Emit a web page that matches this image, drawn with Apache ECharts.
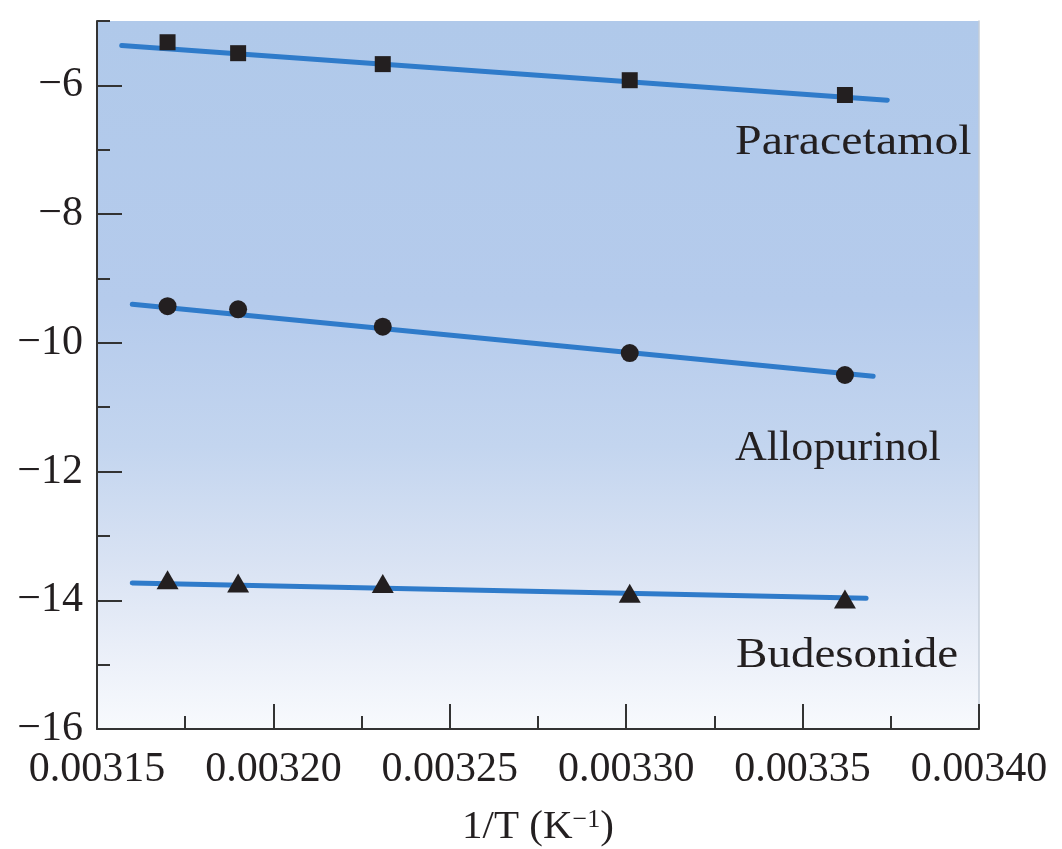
<!DOCTYPE html>
<html>
<head>
<meta charset="utf-8">
<script src="https://cdn.jsdelivr.net/npm/echarts@6/dist/echarts.min.js"></script>
<style>html,body{margin:0;padding:0;background:#fff}#c{width:1062px;height:849px}</style>
</head>
<body>
<div id="c"></div>
<script>
// Measured points (1/T in K^-1, ln x)
const xValues = [0.003170, 0.003190, 0.003231, 0.003301, 0.003362];
const paracetamol = [-5.33, -5.50, -5.67, -5.92, -6.15];
const allopurinol = [-9.43, -9.48, -9.75, -10.16, -10.50];
const budesonide = [-13.68, -13.73, -13.74, -13.89, -13.98];
// Fitted lines (end points)
const paracetamolFitX = [0.003157, 0.003374];
const paracetamolFitY = [-5.38, -6.23];
const allopurinolFitX = [0.003160, 0.003370];
const allopurinolFitY = [-9.40, -10.52];
const budesonideFitX = [0.003160, 0.003368];
const budesonideFitY = [-13.73, -13.97];
const yMajorTicks = [-16, -14, -12, -10, -8, -6];
const seriesNames = ['Paracetamol', 'Allopurinol', 'Budesonide'];

const FONT = 'Liberation Serif';
const TXT = '#231f20';
const AX = '#333333';
const LINE = '#2f7bca';

function zip(xs, ys) { return xs.map((x, i) => [x, ys[i]]); }
function fmtY(v) { return v < 0 ? '\u2212' + Math.abs(v) : String(v); }

const chart = echarts.init(document.getElementById('c'), null, {renderer: 'canvas'});
const yCommon = {type: 'value', min: -16, max: -5, position: 'left', offset: 0,
  splitLine: {show: false}};
chart.setOption({
  backgroundColor: '#ffffff',
  animation: false,
  grid: {left: 97, right: 83, top: 21, bottom: 120, show: true, borderWidth: 0,
    containLabel: false, outerBoundsMode: 'none',
    backgroundColor: new echarts.graphic.LinearGradient(0, 0, 0, 1, [
      {offset: 0, color: '#b0c9ea'},
      {offset: 0.4, color: '#b5cbec'},
      {offset: 0.6, color: '#c3d5ef'},
      {offset: 0.76, color: '#d8e2f3'},
      {offset: 0.88, color: '#e9eef8'},
      {offset: 1, color: '#f8fafd'}
    ])},
  xAxis: {
    type: 'value', min: 0.00315, max: 0.00340, interval: 0.00005,
    axisLine: {show: true, lineStyle: {color: AX, width: 2}},
    axisTick: {show: true, inside: true, length: 25, lineStyle: {color: AX, width: 2}},
    minorTick: {show: true, splitNumber: 2, length: 13, lineStyle: {color: AX, width: 2}},
    splitLine: {show: false},
    axisLabel: {margin: 20, fontFamily: FONT, fontSize: 42, color: TXT,
      formatter: v => v.toFixed(5)},
    name: '{a|1/T (K}{s|\u22121}{a|)}',
    nameLocation: 'middle', nameGap: 78,
    nameTextStyle: {rich: {
      a: {fontFamily: FONT, fontSize: 41, color: TXT, verticalAlign: 'bottom'},
      s: {fontFamily: FONT, fontSize: 26, color: TXT, verticalAlign: 'top', padding: [0, 0, 14, 0]}
    }}
  },
  yAxis: [
    Object.assign({}, yCommon, {
      interval: 1,
      axisLine: {show: true, lineStyle: {color: AX, width: 2}},
      axisTick: {show: true, inside: true, length: 13, lineStyle: {color: AX, width: 2}},
      axisLabel: {show: false}
    }),
    Object.assign({}, yCommon, {
      interval: 2,
      axisLine: {show: false},
      axisTick: {show: true, inside: true, length: 25, customValues: yMajorTicks,
        lineStyle: {color: AX, width: 2}},
      axisLabel: {show: true, customValues: yMajorTicks, margin: 14, fontFamily: FONT,
        fontSize: 42, color: TXT, formatter: fmtY}
    }),
    Object.assign({}, yCommon, {
      position: 'right', interval: 1,
      axisLine: {show: true, lineStyle: {color: '#c3ccd8', width: 1.5}},
      axisTick: {show: false}, axisLabel: {show: false}
    })
  ],
  series: [
    {type: 'line', data: zip(paracetamolFitX, paracetamolFitY), symbol: 'none',
      lineStyle: {color: LINE, width: 5, cap: 'round'}, z: 2},
    {type: 'line', data: zip(allopurinolFitX, allopurinolFitY), symbol: 'none',
      lineStyle: {color: LINE, width: 5, cap: 'round'}, z: 2},
    {type: 'line', data: zip(budesonideFitX, budesonideFitY), symbol: 'none',
      lineStyle: {color: LINE, width: 5, cap: 'round'}, z: 2},
    {type: 'scatter', name: seriesNames[0], data: zip(xValues, paracetamol),
      symbol: 'rect', symbolSize: 16, itemStyle: {color: TXT, opacity: 1}, z: 3},
    {type: 'scatter', name: seriesNames[1], data: zip(xValues, allopurinol),
      symbol: 'circle', symbolSize: 18, itemStyle: {color: TXT, opacity: 1}, z: 3},
    {type: 'scatter', name: seriesNames[2], data: zip(xValues, budesonide),
      symbol: 'triangle', symbolSize: [22, 19], itemStyle: {color: TXT, opacity: 1}, z: 3}
  ],
  graphic: [
    {type: 'text', x: 735, y: 122, scaleX: 1.14, style: {text: seriesNames[0], font: '42px "Liberation Serif"', fill: TXT}},
    {type: 'text', x: 735, y: 428, scaleX: 1.05, style: {text: seriesNames[1], font: '42px "Liberation Serif"', fill: TXT}},
    {type: 'text', x: 736, y: 635, scaleX: 1.12, style: {text: seriesNames[2], font: '42px "Liberation Serif"', fill: TXT}}
  ]
});
</script>
</body>
</html>
